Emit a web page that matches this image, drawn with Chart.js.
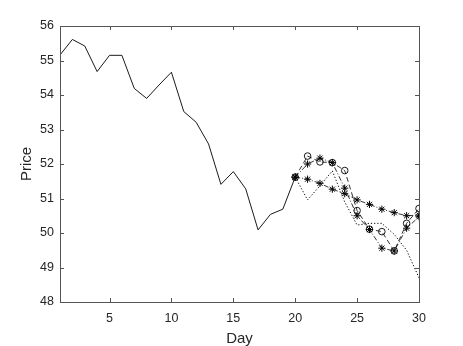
<!DOCTYPE html>
<html><head><meta charset="utf-8">
<script src="https://cdn.jsdelivr.net/npm/chart.js@4/dist/chart.umd.min.js"></script>
<style>html,body{margin:0;padding:0;background:#fff}#wrap{width:463px;height:346px}</style>
</head><body><div id="wrap"><canvas id="c" width="463" height="346"></canvas></div>
<script>
const historyDays = [1,2,3,4,5,6,7,8,9,10,11,12,13,14,15,16,17,18,19,20];
const historyPrice = [55.16,55.61,55.42,54.68,55.15,55.15,54.19,53.90,54.29,54.66,53.52,53.21,52.58,51.41,51.78,51.28,50.09,50.54,50.69,51.62];
const forecastDays = [20,21,22,23,24,25,26,27,28,29,30];
const pathA = [51.62,51.56,51.44,51.27,51.14,50.96,50.83,50.69,50.59,50.50,50.52];
const pathB = [51.62,52.23,52.06,52.04,51.81,50.65,50.11,50.04,49.48,50.28,50.71];
const pathC = [51.62,52.00,52.17,52.04,51.30,50.50,50.10,49.56,49.48,50.14,50.47];
const pathD = [51.62,50.96,51.37,51.80,50.90,50.23,50.28,50.28,49.96,49.50,48.70];
const xTicks = [5,10,15,20,25,30];
const yTicks = [48,49,50,51,52,53,54,55,56];

const toXY = (xs, ys) => xs.map((x,i)=>({x:x,y:ys[i]}));
const axisCol = '#262626';
const font = {family:'"Liberation Sans", Arial, sans-serif', size:12.5};

const frame = {
  id:'frame',
  afterDraw(chart){
    const {ctx, chartArea:a, scales} = chart;
    ctx.save();
    ctx.strokeStyle = '#555'; ctx.lineWidth = 1;
    ctx.strokeRect(Math.round(a.left)+0.5, Math.round(a.top)+0.5, Math.round(a.right-a.left), Math.round(a.bottom-a.top));
    ctx.beginPath();
    const L = 4;
    xTicks.forEach(v=>{const px=Math.round(scales.x.getPixelForValue(v))+0.5;
      ctx.moveTo(px,a.bottom); ctx.lineTo(px,a.bottom-L);
      ctx.moveTo(px,a.top); ctx.lineTo(px,a.top+L);});
    yTicks.forEach(v=>{const py=Math.round(scales.y.getPixelForValue(v))+0.5;
      ctx.moveTo(a.left,py); ctx.lineTo(a.left+L,py);
      ctx.moveTo(a.right,py); ctx.lineTo(a.right-L,py);});
    ctx.stroke();
    ctx.restore();
  }
};

new Chart(document.getElementById('c'), {
  type:'line',
  data:{datasets:[
    {data:toXY(historyDays,historyPrice), borderColor:'#000', borderWidth:0.9, pointRadius:0, fill:false},
    {data:toXY(forecastDays,pathD), borderColor:'#000', borderWidth:1, borderDash:[1.2,2], pointRadius:0, fill:false},
    {data:toXY(forecastDays,pathA), borderColor:'#000', borderWidth:0.8, borderDash:[5,2,1,2], pointStyle:'star', pointRadius:3.6, pointBorderWidth:1, pointBorderColor:'#000', fill:false},
    {data:toXY(forecastDays,pathB), borderColor:'#000', borderWidth:0.8, borderDash:[5,3], pointStyle:'circle', pointRadius:3.3, pointBorderWidth:0.9, pointBorderColor:'#000', pointBackgroundColor:'rgba(0,0,0,0)', fill:false},
    {data:toXY(forecastDays,pathC), borderColor:'#000', borderWidth:0.8, borderDash:[5,2,1,2], pointStyle:'star', pointRadius:3.6, pointBorderWidth:1, pointBorderColor:'#000', fill:false}
  ]},
  options:{
    animation:false, responsive:false, devicePixelRatio:1,
    layout:{padding:{top:26,right:44,left:18,bottom:0}},
    plugins:{legend:{display:false}, tooltip:{enabled:false}},
    elements:{line:{tension:0}},
    scales:{
      x:{type:'linear', min:1, max:30,
        afterBuildTicks(s){s.ticks = xTicks.map(v=>({value:v}));},
        afterFit(s){s.height = 44;},
        grid:{display:false, drawTicks:false},
        border:{display:false},
        ticks:{color:axisCol, font:font, padding:9, maxRotation:0},
        title:{display:true, text:'Day', color:axisCol, font:{family:font.family, size:15}, padding:{top:3,bottom:-2}}
      },
      y:{type:'linear', min:48, max:56,
        afterBuildTicks(s){s.ticks = yTicks.map(v=>({value:v}));},
        afterFit(s){s.width = 42;},
        grid:{display:false, drawTicks:false},
        border:{display:false},
        ticks:{color:axisCol, font:font, padding:6},
        title:{display:true, text:'Price', color:axisCol, font:{family:font.family, size:15}, padding:{top:0,bottom:0}}
      }
    }
  },
  plugins:[frame]
});
</script></body></html>
